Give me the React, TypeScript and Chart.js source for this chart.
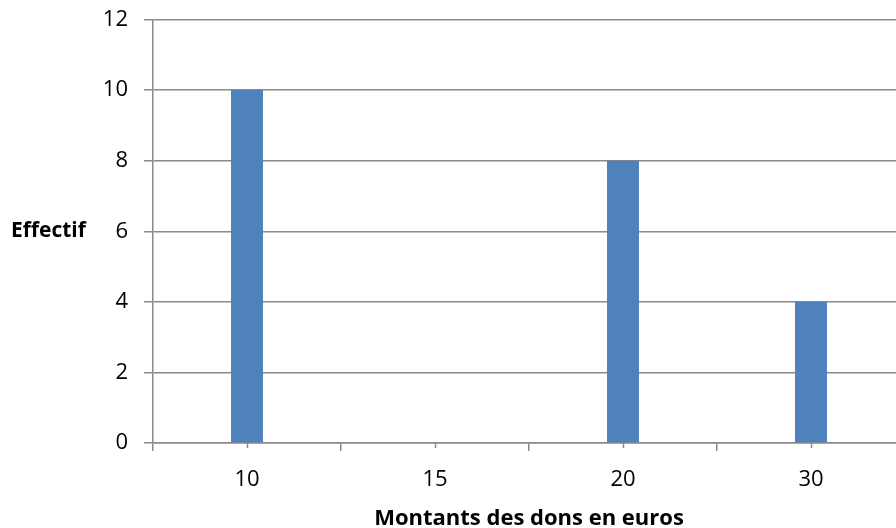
import React, { useEffect, useRef } from "react";
import { Chart, registerables } from "chart.js";

Chart.register(...registerables);

const categories = ["10", "15", "20", "30"];
const effectifs = [10, 0, 8, 4];
const yMin = 0;
const yMax = 12;
const yStep = 2;
const yTitle = "Effectif";
const xTitle = "Montants des dons en euros";

const FONT = '"Open Sans", "DejaVu Sans", sans-serif';
const GRID = "#8a8a8a";

export default function App() {
  const ref = useRef<HTMLCanvasElement | null>(null);

  useEffect(() => {
    if (!ref.current) return;
    const extras = {
      id: "extras",
      afterDraw(chart: any) {
        const { ctx, chartArea, scales } = chart;
        const xs = scales.x;
        ctx.save();
        ctx.strokeStyle = GRID;
        ctx.lineWidth = 1.5;
        for (let i = 0; i < categories.length; i++) {
          const x = Math.round(xs.getPixelForValue(i)) + 0.5;
          ctx.beginPath();
          ctx.moveTo(x, chartArea.bottom);
          ctx.lineTo(x, chartArea.bottom + 5);
          ctx.stroke();
        }
        ctx.fillStyle = "#000";
        ctx.font = `bold 21px ${FONT}`;
        ctx.textAlign = "left";
        ctx.textBaseline = "middle";
        ctx.fillText(yTitle, 11, (chartArea.top + chartArea.bottom) / 2);
        ctx.restore();
      },
    };
    const chart = new Chart(ref.current, {
      type: "bar",
      data: {
        labels: categories,
        datasets: [
          {
            data: effectifs,
            backgroundColor: "#4f81bd",
            borderWidth: 0,
            barPercentage: 0.17,
            categoryPercentage: 1,
          },
        ],
      },
      options: {
        responsive: false,
        animation: false,
        devicePixelRatio: 1,
        layout: { padding: { top: 19.5, right: 0, left: 0, bottom: 0 } },
        plugins: { legend: { display: false }, tooltip: { enabled: false } },
        scales: {
          x: {
            offset: true,
            grid: {
              offset: true,
              drawOnChartArea: false,
              drawTicks: true,
              tickLength: 8,
              color: GRID,
              lineWidth: 1.5,
            },
            border: { color: GRID, width: 1.5 },
            ticks: {
              color: "#000",
              font: { family: FONT, size: 22 },
              padding: 16,
              maxRotation: 0,
            },
            title: {
              display: true,
              text: xTitle,
              color: "#000",
              font: { family: FONT, size: 22, weight: "bold" },
              padding: { top: 0, bottom: -4 },
            },
            afterFit(scale: any) {
              scale.height = 528 - 443;
              scale.paddingLeft = 0;
              scale.paddingRight = 0;
            },
          },
          y: {
            min: yMin,
            max: yMax,
            ticks: {
              stepSize: yStep,
              color: "#000",
              font: { family: FONT, size: 22 },
              padding: 16,
            },
            grid: {
              color: GRID,
              lineWidth: 1.5,
              tickLength: 9,
            },
            border: { color: GRID, width: 1.5 },
            afterFit(scale: any) {
              scale.width = 153;
              scale.paddingTop = 0;
              scale.paddingBottom = 0;
            },
          },
        },
      },
      plugins: [extras],
    });
    return () => chart.destroy();
  }, []);

  return (
    <div
      style={{
        position: "fixed",
        left: 0,
        top: 0,
        width: 896,
        height: 528,
        overflow: "hidden",
        background: "#fff",
      }}
    >
      <canvas
        ref={ref}
        width={905}
        height={528}
        style={{ width: 905, height: 528, display: "block" }}
      />
    </div>
  );
}
